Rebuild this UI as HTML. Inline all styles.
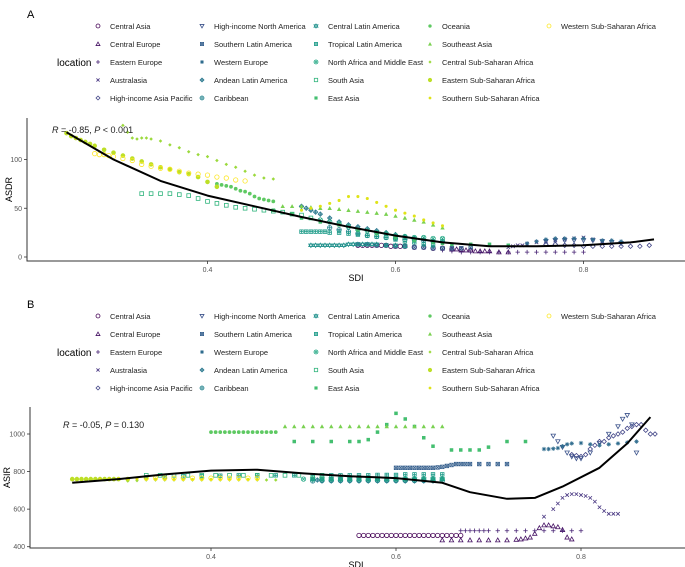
<!DOCTYPE html>
<html><head><meta charset="utf-8"><style>
html,body{margin:0;padding:0;background:#fff;}
svg{display:block;font-family:"Liberation Sans",Arial,sans-serif;}
</style></head><body>
<svg id="chart" width="685" height="567" viewBox="0 0 685 567"></svg>
<script>
const regions=["Central Asia","Central Europe","Eastern Europe","Australasia","High-income Asia Pacific","High-income North America","Southern Latin America","Western Europe","Andean Latin America","Caribbean","Central Latin America","Tropical Latin America","North Africa and Middle East","South Asia","East Asia","Oceania","Southeast Asia","Central Sub-Saharan Africa","Eastern Sub-Saharan Africa","Southern Sub-Saharan Africa","Western Sub-Saharan Africa"];
const colors=["#440154","#471365","#482475","#463480","#414487","#3b528b","#355f8d","#2f6c8e","#2a788e","#25848e","#21918c","#1e9c89","#22a884","#2fb47c","#44bf70","#5ec962","#7ad151","#9bd93c","#bddf26","#dfe318","#fde725"];
const shapes=["circle","triangle","plus","cross","diamond","tridown","sqx","star","diaplus","circplus","david","sqplus","circx","sqopen","sqfill","dotfill","trifill","smalldot","bigdot","tinydot","circle"];
// Panel A: ASDR
const asdrSdi=[
[0.56,0.565,0.57,0.575,0.58,0.585,0.59,0.595,0.60,0.605,0.61,0.62,0.63,0.64,0.65,0.66,0.67,0.68],
[0.66,0.665,0.67,0.675,0.68,0.685,0.69,0.695,0.70,0.71,0.72],
[0.65,0.66,0.67,0.68,0.69,0.70,0.71,0.72,0.73,0.74,0.75,0.76,0.77,0.78,0.79,0.80],
[0.72,0.725,0.73,0.735,0.74,0.75,0.76,0.77,0.78,0.79,0.80,0.81,0.82],
[0.76,0.77,0.78,0.79,0.80,0.81,0.82,0.83,0.84,0.85,0.86,0.87],
[0.76,0.77,0.78,0.79,0.80,0.81,0.82,0.83,0.84],
[0.56,0.57,0.58,0.59,0.60,0.61,0.62,0.63,0.64,0.65,0.66,0.67,0.68],
[0.74,0.75,0.76,0.77,0.78,0.79,0.80,0.81,0.82,0.83,0.84],
[0.50,0.505,0.51,0.515,0.52,0.53,0.54,0.55,0.56,0.57,0.58,0.59,0.60,0.61,0.62,0.63,0.64,0.65],
[0.53,0.54,0.55,0.56,0.57,0.58,0.59,0.60,0.61,0.62,0.63,0.64,0.65],
[0.51,0.515,0.52,0.525,0.53,0.535,0.54,0.545,0.55,0.555,0.56,0.565,0.57,0.575,0.58,0.59,0.60,0.61],
[0.50,0.505,0.51,0.515,0.52,0.525,0.53,0.54,0.55,0.56,0.57,0.58,0.59,0.60,0.61,0.62,0.63,0.64],
[0.52,0.53,0.54,0.55,0.56,0.57,0.58,0.59,0.60,0.61,0.62,0.63,0.64,0.65],
[0.33,0.34,0.35,0.36,0.37,0.38,0.39,0.40,0.41,0.42,0.43,0.44,0.45,0.46,0.47,0.48,0.49,0.50,0.51],
[0.47,0.49,0.50,0.52,0.54,0.56,0.58,0.60,0.62,0.64,0.65,0.66,0.68,0.70,0.72],
[0.41,0.415,0.42,0.425,0.43,0.435,0.44,0.445,0.45,0.455,0.46,0.465,0.47],
[0.48,0.49,0.50,0.51,0.52,0.53,0.54,0.55,0.56,0.57,0.58,0.59,0.60,0.61,0.62,0.63,0.64,0.65],
[0.31,0.315,0.32,0.325,0.33,0.335,0.34,0.35,0.36,0.37,0.38,0.39,0.40,0.41,0.42,0.43,0.44,0.45,0.46,0.47],
[0.25,0.255,0.26,0.265,0.27,0.275,0.28,0.29,0.30,0.31,0.32,0.33,0.34,0.35,0.36,0.37,0.38,0.39,0.40,0.41],
[0.50,0.51,0.52,0.53,0.54,0.55,0.56,0.57,0.58,0.59,0.60,0.61,0.62,0.63,0.64,0.65],
[0.28,0.285,0.29,0.295,0.30,0.31,0.32,0.33,0.34,0.35,0.36,0.37,0.38,0.39,0.40,0.41,0.42,0.43,0.44]];
const asdrVal=[
[12,12,12,12,12,12,12,11,11,11,11,10,10,9,9,8,8,7],
[8,8,7,7,7,6,6,6,6,5,5],
[7,6,5,5,5,5,5,5,5,5,5,5,5,5,5,5],
[10,11,12,12,13,15,16,17,18,19,20,18,16],
[13,13,12,12,11,11,11,11,11,11,11,12],
[16,17,17,17,17,17,16,15,14],
[13,13,12,12,11,11,10,10,9,9,9,9,10],
[14,16,18,19,19,19,19,18,17,17,16],
[52,50,48,46,44,40,36,33,31,29,27,25,23,21,19,18,16,15],
[30,28,26,24,22,21,20,19,18,18,17,16,16],
[12,12,12,12,12,12,12,12,13,13,13,13,13,13,13,12,12,11],
[26,26,26,26,26,26,25,25,24,23,22,21,20,18,16,15,13,12],
[38,36,34,31,28,27,25,24,22,21,20,20,19,19],
[65,65,65,65,64,63,60,57,55,53,51,50,49,48,47,46,44,43,40],
[48,44,40,36,33,28,24,20,17,15,14,13,13,13,12],
[75,74,73,72,70,68,67,65,62,60,59,58,57],
[52,52,52,51,50,50,49,48,47,46,45,44,42,40,38,36,33,30],
[135,128,122,121,122,122,121,119,115,112,108,105,103,99,95,92,88,84,81,80],
[127,124,122,120,118,116,114,110,107,104,101,98,95,92,90,87,85,82,77,72],
[48,50,52,55,58,62,62,60,56,52,48,45,42,38,35,32],
[106,105,105,104,103,101,99,95,93,91,90,88,86,85,84,82,81,79,78]];
// Panel B: ASIR
const asirSdi=[
[0.56,0.565,0.57,0.575,0.58,0.585,0.59,0.595,0.60,0.605,0.61,0.615,0.62,0.625,0.63,0.635,0.64,0.645,0.65,0.655,0.66,0.665,0.67],
[0.65,0.66,0.67,0.68,0.69,0.70,0.71,0.72,0.73,0.735,0.74,0.745,0.75,0.755,0.76,0.765,0.77,0.775,0.78,0.785,0.79],
[0.67,0.675,0.68,0.685,0.69,0.695,0.70,0.71,0.72,0.73,0.74,0.75,0.76,0.77,0.78,0.79,0.80],
[0.76,0.77,0.775,0.78,0.785,0.79,0.795,0.80,0.805,0.81,0.815,0.82,0.825,0.83,0.835,0.84],
[0.79,0.795,0.80,0.805,0.81,0.815,0.82,0.825,0.83,0.835,0.84,0.845,0.85,0.855,0.86,0.865,0.87,0.875,0.88],
[0.77,0.775,0.78,0.785,0.79,0.795,0.80,0.81,0.82,0.83,0.84,0.845,0.85,0.855,0.86],
[0.60,0.605,0.61,0.615,0.62,0.625,0.63,0.635,0.64,0.645,0.65,0.655,0.66,0.665,0.67,0.675,0.68,0.69,0.70,0.71,0.72],
[0.76,0.765,0.77,0.775,0.78,0.785,0.79,0.80,0.81,0.82,0.83,0.84,0.85,0.86],
[0.51,0.515,0.52,0.53,0.54,0.55,0.56,0.57,0.58,0.59,0.60,0.61,0.62,0.63,0.64],
[0.51,0.52,0.53,0.54,0.55,0.56,0.57,0.58,0.59,0.60,0.61,0.62,0.63,0.64,0.65],
[0.51,0.52,0.53,0.54,0.55,0.56,0.57,0.58,0.59,0.60,0.61,0.62,0.63,0.64,0.65],
[0.33,0.35,0.37,0.39,0.41,0.43,0.45,0.47,0.49,0.51,0.52,0.53,0.54,0.55,0.56,0.57,0.58,0.59,0.60,0.61,0.62,0.63,0.64,0.65],
[0.50,0.51,0.52,0.53,0.54,0.55,0.56,0.57,0.58,0.59,0.60,0.61,0.62,0.63,0.64,0.65],
[0.33,0.345,0.36,0.375,0.39,0.405,0.42,0.435,0.45,0.465,0.48,0.495,0.51,0.52],
[0.49,0.51,0.53,0.55,0.56,0.57,0.58,0.59,0.60,0.61,0.62,0.63,0.64,0.66,0.67,0.68,0.69,0.70,0.72,0.74],
[0.40,0.405,0.41,0.415,0.42,0.425,0.43,0.435,0.44,0.445,0.45,0.455,0.46,0.465,0.47],
[0.48,0.49,0.50,0.51,0.52,0.53,0.54,0.55,0.56,0.57,0.58,0.59,0.60,0.61,0.62,0.63,0.64,0.65],
[0.31,0.32,0.33,0.34,0.35,0.36,0.37,0.38,0.39,0.40,0.41,0.42,0.43,0.44,0.45,0.46,0.47],
[0.25,0.255,0.26,0.265,0.27,0.275,0.28,0.285,0.29,0.295,0.30,0.31],
[0.28,0.29,0.30,0.31,0.32,0.33,0.34,0.35,0.36,0.37,0.38,0.39,0.40,0.41,0.42,0.43,0.44,0.45],
[0.33,0.34,0.35,0.36,0.37,0.38,0.39,0.40,0.41,0.42,0.43,0.44,0.45]];
const asirVal=[
[460,460,460,460,460,460,460,460,460,460,460,460,460,460,460,460,460,460,460,460,460,460,460],
[435,435,435,435,435,435,435,435,438,440,445,450,470,500,515,515,510,505,490,450,440],
[485,485,485,485,485,485,485,485,485,485,485,485,485,485,485,485,485],
[560,600,630,660,675,680,680,675,670,660,640,610,590,575,575,575],
[890,885,880,890,920,940,960,960,980,990,1000,1010,1030,1040,1050,1050,1020,1000,1000],
[990,960,930,900,880,870,870,900,950,1000,1040,1080,1100,1050,900],
[820,820,820,820,820,820,820,820,820,822,825,830,835,840,840,840,840,840,840,840,840],
[920,920,922,925,935,945,950,952,945,940,945,950,955,960],
[760,755,750,750,750,750,750,750,750,750,750,750,750,750,750],
[750,752,752,752,752,752,752,752,752,752,752,752,752,752,752],
[760,760,760,760,760,760,760,760,760,760,760,760,760,760,760],
[770,772,775,775,778,780,780,780,780,780,780,780,780,780,780,780,782,782,782,785,785,785,785,785],
[760,760,760,760,760,760,760,760,760,760,760,760,760,760,760,760],
[780,780,780,780,780,780,780,780,780,780,780,780,780,780],
[960,960,960,960,960,970,1010,1050,1110,1080,1040,980,935,915,915,915,915,930,960,960],
[1010,1010,1010,1010,1010,1010,1010,1010,1010,1010,1010,1010,1010,1010,1010],
[1040,1040,1040,1040,1040,1040,1040,1040,1040,1040,1040,1040,1040,1040,1040,1040,1040,1040],
[750,752,755,755,755,755,755,755,755,755,755,755,755,755,755,755,755],
[760,760,760,760,760,760,760,760,760,760,760,760],
[758,760,762,762,762,760,760,760,758,758,758,758,758,758,758,758,758,758],
[765,765,765,765,765,765,765,765,765,765,765,765,765]];
const fitASdi=[0.25,0.30,0.35,0.40,0.45,0.50,0.55,0.60,0.65,0.70,0.75,0.80,0.85,0.875];
const fitAVal=[128,100,78,63,52,41,31,22,15,11,11,12,15,18];
const fitBSdi=[0.25,0.30,0.35,0.40,0.45,0.50,0.55,0.60,0.65,0.68,0.72,0.75,0.78,0.82,0.85,0.875];
const fitBVal=[740,760,785,805,810,790,775,765,740,690,655,660,720,820,950,1090];

const NS="http://www.w3.org/2000/svg";
const svg=document.getElementById('chart');
function mk(tag,attrs,parent){const e=document.createElementNS(NS,tag);for(const k in attrs)e.setAttribute(k,attrs[k]);(parent||svg).appendChild(e);return e;}
function txt(x,y,s,size,fill,anchor,parent){const t=mk('text',{x:x,y:y,'font-size':size,fill:fill,'text-anchor':anchor||'start'},parent);t.textContent=s;return t;}

function marker(g,shape,x,y,c,sc){
  sc=sc||1;const r=2.2*sc;const sw=0.8;
  const o={fill:'none',stroke:c,'stroke-width':sw};
  switch(shape){
    case 'circle':mk('circle',Object.assign({cx:x,cy:y,r:r},o),g);break;
    case 'triangle':mk('polygon',Object.assign({points:`${x},${y-r} ${x-r},${y+r*0.8} ${x+r},${y+r*0.8}`},o),g);break;
    case 'tridown':mk('polygon',Object.assign({points:`${x},${y+r} ${x-r},${y-r*0.8} ${x+r},${y-r*0.8}`},o),g);break;
    case 'plus':mk('path',Object.assign({d:`M${x-r} ${y}H${x+r}M${x} ${y-r}V${y+r}`},o),g);break;
    case 'cross':mk('path',Object.assign({d:`M${x-r*.8} ${y-r*.8}L${x+r*.8} ${y+r*.8}M${x-r*.8} ${y+r*.8}L${x+r*.8} ${y-r*.8}`},o),g);break;
    case 'diamond':mk('polygon',Object.assign({points:`${x},${y-r} ${x+r},${y} ${x},${y+r} ${x-r},${y}`},o),g);break;
    case 'sqx':mk('rect',Object.assign({x:x-r*.8,y:y-r*.8,width:r*1.6,height:r*1.6},o),g);mk('path',Object.assign({d:`M${x-r*.8} ${y-r*.8}L${x+r*.8} ${y+r*.8}M${x-r*.8} ${y+r*.8}L${x+r*.8} ${y-r*.8}`},o),g);break;
    case 'star':mk('path',Object.assign({d:`M${x-r} ${y}H${x+r}M${x} ${y-r}V${y+r}M${x-r*.7} ${y-r*.7}L${x+r*.7} ${y+r*.7}M${x-r*.7} ${y+r*.7}L${x+r*.7} ${y-r*.7}`},o),g);break;
    case 'diaplus':mk('polygon',Object.assign({points:`${x},${y-r} ${x+r},${y} ${x},${y+r} ${x-r},${y}`},o),g);mk('path',Object.assign({d:`M${x-r} ${y}H${x+r}M${x} ${y-r}V${y+r}`},o),g);break;
    case 'circplus':mk('circle',Object.assign({cx:x,cy:y,r:r},o),g);mk('path',Object.assign({d:`M${x-r} ${y}H${x+r}M${x} ${y-r}V${y+r}`},o),g);break;
    case 'david':mk('polygon',Object.assign({points:`${x},${y-r} ${x-r},${y+r*.6} ${x+r},${y+r*.6}`},o),g);mk('polygon',Object.assign({points:`${x},${y+r} ${x-r},${y-r*.6} ${x+r},${y-r*.6}`},o),g);break;
    case 'sqplus':mk('rect',Object.assign({x:x-r*.8,y:y-r*.8,width:r*1.6,height:r*1.6},o),g);mk('path',Object.assign({d:`M${x-r*.8} ${y}H${x+r*.8}M${x} ${y-r*.8}V${y+r*.8}`},o),g);break;
    case 'circx':mk('circle',Object.assign({cx:x,cy:y,r:r},o),g);mk('path',Object.assign({d:`M${x-r*.7} ${y-r*.7}L${x+r*.7} ${y+r*.7}M${x-r*.7} ${y+r*.7}L${x+r*.7} ${y-r*.7}`},o),g);break;
    case 'sqopen':mk('rect',Object.assign({x:x-r*.85,y:y-r*.85,width:r*1.7,height:r*1.7},o),g);break;
    case 'sqfill':mk('rect',{x:x-r*.8,y:y-r*.8,width:r*1.6,height:r*1.6,fill:c},g);break;
    case 'dotfill':mk('circle',{cx:x,cy:y,r:r*.85,fill:c},g);break;
    case 'trifill':mk('polygon',{points:`${x},${y-r} ${x-r},${y+r*0.8} ${x+r},${y+r*0.8}`,fill:c},g);break;
    case 'smalldot':mk('polygon',{points:`${x},${y-r*.8} ${x+r*.8},${y} ${x},${y+r*.8} ${x-r*.8},${y}`,fill:c},g);break;
    case 'bigdot':mk('circle',{cx:x,cy:y,r:r*1.05,fill:c},g);break;
    case 'tinydot':mk('circle',{cx:x,cy:y,r:r*.7,fill:c},g);break;
  }
}

function legend(top,letter){
  const l=txt(27,top-8,letter,11,'#000');
  
  
  const lt=txt(57,top+40,'location',10,'#000');
  
  
  const cols=[98,202,316,430,549];
  regions.forEach((r,i)=>{
    const col=Math.floor(i/5),row=i%5;
    const x=cols[col],y=top+row*18;
    const g=mk('g',{});
    
    
    marker(g,shapes[i],x,y,colors[i],0.9);
    txt(x+12,y+3,r,7.5,'#222','start',g);
  });
}

function panel(o){
  const g=mk('g',{});
  
  
  const X=s=>o.x0+(s-0.4)*o.kx;
  const Y=v=>o.y0-(v-o.v0)*o.ky;
  const ax=mk('path',{d:`M${o.left} ${o.top}V${o.bottom}H685`,stroke:'#333','stroke-width':1,fill:'none'},g);
  
  
  o.xt.forEach(t=>{mk('line',{x1:X(t),x2:X(t),y1:o.bottom,y2:o.bottom+3,stroke:'#333','stroke-width':0.8},g);
    const tl=txt(X(t),o.bottom+11,t.toFixed(1),7,'#555','middle',g);
    
    });
  o.yt.forEach(t=>{mk('line',{x1:o.left-3,x2:o.left,y1:Y(t),y2:Y(t),stroke:'#333','stroke-width':0.8},g);
    const tl=txt(o.left-5,Y(t)+2.5,String(t),7,'#555','end',g);
    
    });
  const xt=txt(356,o.bottom+20,'SDI',9,'#000','middle',g);
  
  
  const yt=txt(0,0,o.ylab,9,'#000','middle',g);
  yt.setAttribute('transform',`translate(${o.ylx},${(o.top+o.bottom)/2}) rotate(-90)`);
  
  
  o.sdi.forEach((arr,i)=>{
    const sg=mk('g',{},g);
    
    
    arr.forEach((s,j)=>marker(sg,shapes[i],X(s),Y(o.val[i][j]),colors[i],1));
  });
  let d='';
  o.fs.forEach((s,j)=>{d+=(j?'L':'M')+X(s).toFixed(1)+' '+Y(o.fv[j]).toFixed(1);});
  const fl=mk('path',{d:d,stroke:'#000','stroke-width':2,fill:'none','stroke-linejoin':'round'},g);
  
  
  const st=mk('text',{x:o.sx,y:o.sy,'font-size':9,fill:'#222'},g);
  st.innerHTML=o.stat;
  
  
}

legend(26,'A');
panel({name:'panel-a-asdr',left:27,top:118,bottom:261,x0:207.5,kx:940,y0:257,v0:0,ky:0.975,
  xt:[0.4,0.6,0.8],yt:[0,50,100],ylab:'ASDR',ylx:12,sdi:asdrSdi,val:asdrVal,fs:fitASdi,fv:fitAVal,
  sx:52,sy:133,stat:'<tspan font-style="italic">R</tspan> = -0.85, <tspan font-style="italic">P</tspan> &lt; 0.001'});
legend(316,'B');
panel({name:'panel-b-asir',left:30,top:407,bottom:548,x0:211,kx:925,y0:546.7,v0:400,ky:0.18783,
  xt:[0.4,0.6,0.8],yt:[400,600,800,1000],ylab:'ASIR',ylx:10,sdi:asirSdi,val:asirVal,fs:fitBSdi,fv:fitBVal,
  sx:63,sy:428,stat:'<tspan font-style="italic">R</tspan> = -0.05, <tspan font-style="italic">P</tspan> = 0.130'});
</script>
</body></html>
